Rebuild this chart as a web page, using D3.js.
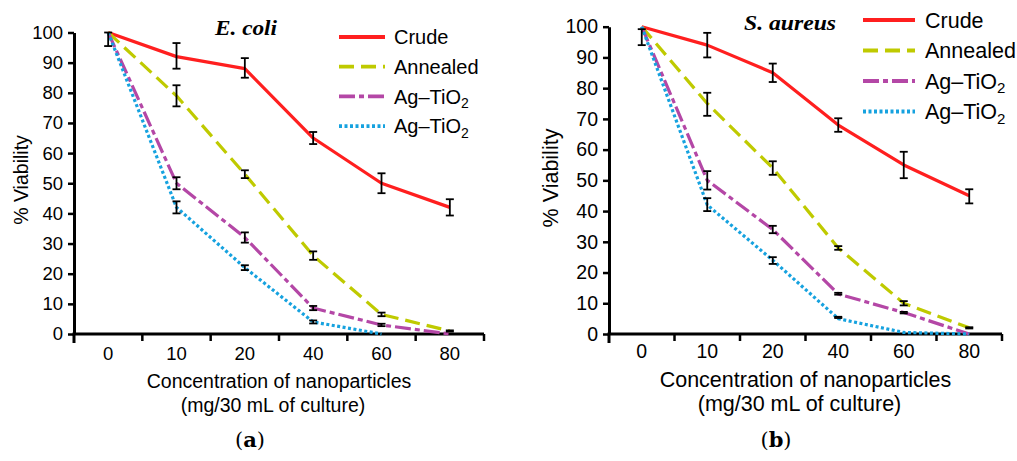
<!DOCTYPE html>
<html>
<head>
<meta charset="utf-8">
<script src="https://cdn.jsdelivr.net/npm/d3@7"></script>
<style>
body { margin: 0; background: #fff; }
</style>
</head>
<body>
<div id="chart"></div>
<script>
//categories and ticks
var concentrations = ["0", "10", "20", "40", "60", "80"];
var yTicks = [0, 10, 20, 30, 40, 50, 60, 70, 80, 90, 100];
var seriesNames = ["Crude", "Annealed", "Ag–TiO2", "Ag–TiO2"];

//E. coli values (% viability)
var ecoliCrude = [100, 92, 88, 65, 50, 42];
var ecoliAnnealed = [100, 79, 53, 26, 6.5, 1];
var ecoliAgTiO2a = [100, 50, 32, 8.6, 3, 0];
var ecoliAgTiO2b = [100, 42, 22, 4, 0, null];
//E. coli error bars [low, high]
var ecoliCrudeErr = [[95.5, 100], [88, 96.5], [85, 91.5], [63, 67], [46.7, 53.3], [39.3, 44.7]];
var ecoliAnnealedErr = [null, [75.5, 82.5], [51.7, 54.3], [24.6, 27.4], [5.9, 7.1], [0.8, 1.2]];
var ecoliAgTiO2aErr = [null, [48, 52], [30.3, 33.7], [7.9, 9.3], [2.6, 3.4], null];
var ecoliAgTiO2bErr = [null, [40, 44], [21.2, 22.8], [3.5, 4.5], null, null];

//S. aureus values (% viability)
var aureusCrude = [100, 94, 85, 68, 55, 45];
var aureusAnnealed = [100, 75, 54, 28, 10, 2];
var aureusAgTiO2a = [100, 50, 34, 13, 7, 0];
var aureusAgTiO2b = [100, 42, 24, 5, 0.5, 0];
//S. aureus error bars [low, high]
var aureusCrudeErr = [[94, 99.2], [90, 98], [82, 88], [65.8, 70.2], [50.7, 59.3], [42.5, 47.1]];
var aureusAnnealedErr = [null, [71, 78.5], [51.8, 56.2], [27.4, 28.6], [9.3, 10.7], [1.8, 2.2]];
var aureusAgTiO2aErr = [null, [47, 53], [32.8, 35.2], [12.8, 13.4], [6.7, 7.2], null];
var aureusAgTiO2bErr = [null, [40, 44.2], [22.8, 25], [5.2, 5.6], null, null];

//line styles
var seriesColors = ["#ff1f1f", "#bfca00", "#b447a6", "#16a2df"];
var seriesDash = [null, "15,7", "16,4,5,4", "3,2.5"];

var sansFont = "Arial, 'Liberation Sans', sans-serif";
var serifFont = "'Liberation Serif', 'Times New Roman', serif";

var svgWidth = 1017;
var svgHeight = 461;

var svg = d3.select("#chart")
    .append("svg")
    .attr("width", svgWidth)
    .attr("height", svgHeight)
    .style("font-family", sansFont);

svg.append("rect")
    .attr("width", svgWidth)
    .attr("height", svgHeight)
    .attr("fill", "#fff");

//draws the label, with the trailing digit as a subscript
function addLabel(sel, name) {
    var m = name.match(/^(.*?)(\d)$/);
    if (m) {
        sel.append("tspan").text(m[1]);
        sel.append("tspan")
            .attr("font-size", "0.7em")
            .attr("dy", "0.3em")
            .text(m[2]);
    } else {
        sel.text(name);
    }
}

function drawPanel(p) {
    var g = svg.append("g");

    var xScale = d3.scaleBand()
        .domain(concentrations)
        .range([p.left, p.right]);
    var yScale = d3.scaleLinear()
        .domain([0, 100])
        .range([p.bottom, p.top]);
    var cx = c => xScale(c) + xScale.bandwidth() / 2;

    //y axis
    var leftAxis = d3.axisLeft(yScale)
        .tickValues(yTicks)
        .tickSize(6)
        .tickSizeOuter(0)
        .tickPadding(5);
    var yAxis = g.append("g")
        .attr("transform", `translate(${p.left},0)`)
        .call(leftAxis);
    yAxis.select(".domain").attr("stroke-width", 3);
    yAxis.selectAll(".tick line").attr("stroke-width", 2.5);
    yAxis.selectAll("text")
        .attr("font-size", p.tickFont + "px")
        .attr("font-family", sansFont);

    //x axis line and band boundary ticks
    g.append("line")
        .attr("x1", p.left - 1.5)
        .attr("x2", p.right)
        .attr("y1", p.bottom)
        .attr("y2", p.bottom)
        .attr("stroke", "#000")
        .attr("stroke-width", 3);
    var bounds = concentrations.map(c => xScale(c)).concat([xScale.range()[1]]);
    g.selectAll(".bound")
        .data(bounds)
        .enter()
        .append("line")
        .attr("x1", d => d)
        .attr("x2", d => d)
        .attr("y1", p.bottom)
        .attr("y2", (d, i) => p.bottom + (i === 0 ? 9 : 7))
        .attr("stroke", "#000")
        .attr("stroke-width", (d, i) => i === 0 ? 3 : 2.5);

    //x tick labels at band centres
    var bottomAxis = d3.axisBottom(xScale)
        .tickSize(0)
        .tickPadding(p.xLabelPad);
    var xAxis = g.append("g")
        .attr("transform", `translate(0,${p.bottom})`)
        .call(bottomAxis);
    xAxis.select(".domain").remove();
    xAxis.selectAll("text")
        .attr("font-size", p.tickFont + "px")
        .attr("font-family", sansFont);

    //series lines
    var line = d3.line()
        .defined(d => d != null)
        .x((d, i) => cx(concentrations[i]))
        .y(d => yScale(d));

    p.values.forEach((vals, s) => {
        var path = g.append("path")
            .datum(vals)
            .attr("d", line)
            .attr("fill", "none")
            .attr("stroke", seriesColors[s])
            .attr("stroke-width", 3.2)
            .attr("stroke-linejoin", "round");
        if (seriesDash[s]) path.attr("stroke-dasharray", seriesDash[s]);
    });

    //error bars
    p.errors.forEach(errs => {
        errs.forEach((e, i) => {
            if (!e) return;
            var xc = cx(concentrations[i]);
            var eb = g.append("g").attr("stroke", "#000").attr("stroke-width", 1.8);
            eb.append("line")
                .attr("x1", xc).attr("x2", xc)
                .attr("y1", yScale(e[0])).attr("y2", yScale(e[1]));
            eb.append("line")
                .attr("x1", xc - 4).attr("x2", xc + 4)
                .attr("y1", yScale(e[0])).attr("y2", yScale(e[0]));
            eb.append("line")
                .attr("x1", xc - 4).attr("x2", xc + 4)
                .attr("y1", yScale(e[1])).attr("y2", yScale(e[1]));
        });
    });

    //legend
    seriesNames.forEach((name, s) => {
        var ly = p.legendY + s * p.legendStep;
        var ll = g.append("line")
            .attr("x1", p.legendX0)
            .attr("x2", p.legendX1)
            .attr("y1", ly)
            .attr("y2", ly)
            .attr("stroke", seriesColors[s])
            .attr("stroke-width", 3.8);
        if (seriesDash[s]) ll.attr("stroke-dasharray", seriesDash[s]);
        var t = g.append("text")
            .attr("x", p.legendTextX)
            .attr("y", ly + p.legendFont * 0.36)
            .attr("font-size", p.legendFont + "px");
        addLabel(t, name);
    });

    //organism title
    g.append("text")
        .attr("x", p.titleX)
        .attr("y", p.titleY)
        .style("font-family", serifFont)
        .attr("font-weight", "bold")
        .attr("font-style", "italic")
        .attr("font-size", p.titleFont + "px")
        .attr("textLength", p.titleLen)
        .attr("lengthAdjust", "spacingAndGlyphs")
        .text(p.title);

    //y label
    g.append("text")
        .attr("transform", `translate(${p.yLabelX},${p.yLabelY}) rotate(-90)`)
        .attr("text-anchor", "middle")
        .attr("font-size", p.labelFont + "px")
        .text("% Viability");

    //x label, two lines
    var mid = (p.left + p.right) / 2;
    g.append("text")
        .attr("x", mid)
        .attr("y", p.xLabelY)
        .attr("text-anchor", "middle")
        .attr("font-size", p.labelFont + "px")
        .text("Concentration of nanoparticles");
    g.append("text")
        .attr("x", mid - 6)
        .attr("y", p.xLabelY + 24)
        .attr("text-anchor", "middle")
        .attr("font-size", p.labelFont + "px")
        .text("(mg/30 mL of culture)");

    //panel letter
    var pl = g.append("text")
        .attr("x", p.letterX)
        .attr("y", 447)
        .attr("text-anchor", "middle")
        .style("font-family", "'DejaVu Serif', 'Liberation Serif', serif")
        .attr("font-size", "21px");
    pl.append("tspan").text("(");
    pl.append("tspan").attr("font-weight", "bold").text(p.letter);
    pl.append("tspan").text(")");
}

drawPanel({
    left: 74, right: 484, top: 32.5, bottom: 334,
    tickFont: 18.5, xLabelPad: 13, labelFont: 19.5, legendFont: 20,
    values: [ecoliCrude, ecoliAnnealed, ecoliAgTiO2a, ecoliAgTiO2b],
    errors: [ecoliCrudeErr, ecoliAnnealedErr, ecoliAgTiO2aErr, ecoliAgTiO2bErr],
    legendX0: 339, legendX1: 385, legendTextX: 394, legendY: 37, legendStep: 29.7,
    title: "E. coli", titleX: 215, titleY: 35, titleFont: 21, titleLen: 62,
    yLabelX: 28, yLabelY: 180, xLabelY: 388,
    letter: "a", letterX: 250
});

drawPanel({
    left: 609, right: 1002, top: 26.7, bottom: 334,
    tickFont: 19.5, xLabelPad: 10.5, labelFont: 21.5, legendFont: 21.5,
    values: [aureusCrude, aureusAnnealed, aureusAgTiO2a, aureusAgTiO2b],
    errors: [aureusCrudeErr, aureusAnnealedErr, aureusAgTiO2aErr, aureusAgTiO2bErr],
    legendX0: 863, legendX1: 915, legendTextX: 925, legendY: 20, legendStep: 30.5,
    title: "S. aureus", titleX: 744, titleY: 30, titleFont: 22, titleLen: 92,
    yLabelX: 558, yLabelY: 178, xLabelY: 387,
    letter: "b", letterX: 776
});
</script>
</body>
</html>
